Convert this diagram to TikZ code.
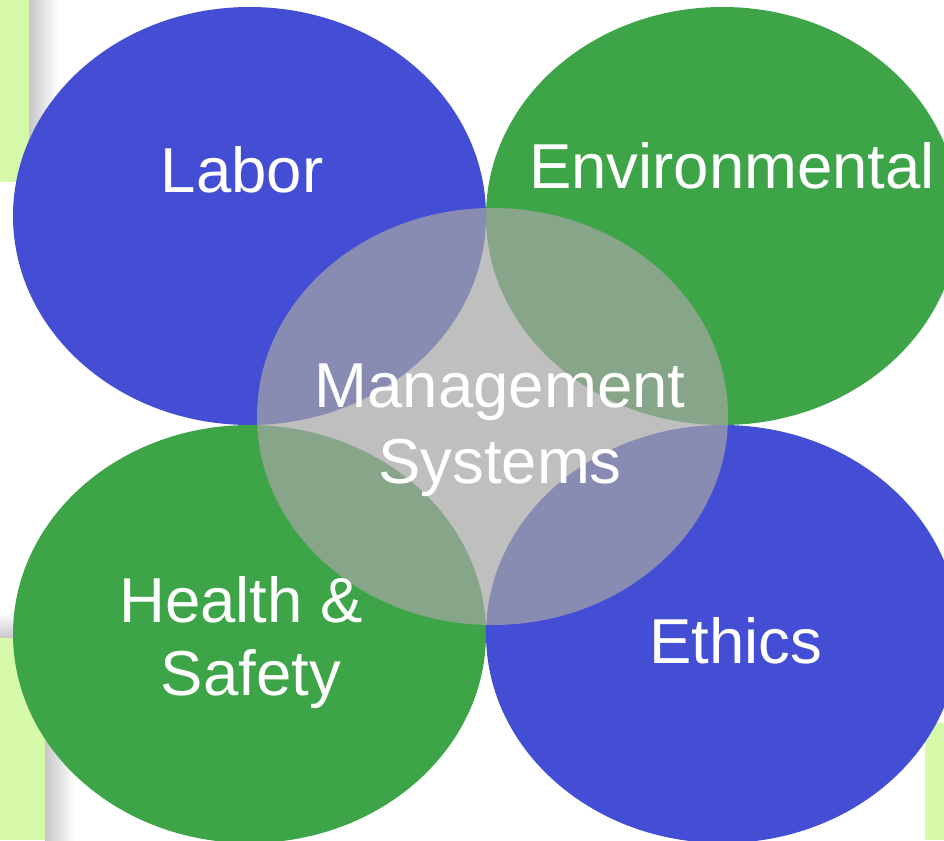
\documentclass[tikz,border=0pt]{standalone}
\usepackage{fontspec}
\setmainfont{Liberation Sans}
\usetikzlibrary{shapes.geometric}
\definecolor{qblue}{RGB}{67,78,213}
\definecolor{qgreen}{RGB}{61,165,71}
\definecolor{lgreen}{RGB}{214,250,170}
\definecolor{mgray}{RGB}{165,165,165}
\begin{document}
\begin{tikzpicture}[x = 1pt, y = -1pt,
    quad/.style = {ellipse, minimum width = 473pt, minimum height = 418pt, inner sep = 0pt, outer sep = 0pt},
    lbl/.style = {text = white, font = \fontsize{63.5}{76}\selectfont, align = center, inner sep = 0pt}]
\useasboundingbox (0,0) rectangle (944,840);
\clip (0,0) rectangle (944,840);
%%% slide boxes behind the ellipses
\shade [left color = black!22, right color = white] (29,0) rectangle (58,220);
\fill [lgreen] (0,0) rectangle (29,182);
\shade [top color = white, bottom color = black!22] (0,613) rectangle (45,638);
\shade [left color = black!22, right color = white] (45,620) rectangle (75,840);
\fill [lgreen] (0,638) rectangle (45,840);
\fill [lgreen] (925,723) rectangle (944,840);
%%% four areas
\foreach \n/\cx/\cy/\col in {labor/249.5/216/qblue, envir/722.5/216/qgreen,
                             health/249.5/634/qgreen, ethics/722.5/634/qblue} {
    \node (\n) [quad, fill = \col] at (\cx,\cy) {};
}
\node (mgmt) [quad, minimum width = 471pt, minimum height = 417pt, fill = mgray, fill opacity = 0.71] at (492.5,416.5) {};
%%% labels (base = last line)
\node (laborT) [lbl, anchor = base] at (242,192) {Labor};
\node (envirT) [lbl, anchor = base] at (732,188) {Environmental};
\node (mgmtT) [lbl, anchor = base] at (500,483) {Management\\Systems};
\node (healthT) [lbl, anchor = base, font = \fontsize{63.5}{73}\selectfont] at (241,695) {Health \&\\\hspace*{20pt}Safety};
\node (ethicsT) [lbl, anchor = base] at (736,663) {Ethics};
\end{tikzpicture}
\end{document}
